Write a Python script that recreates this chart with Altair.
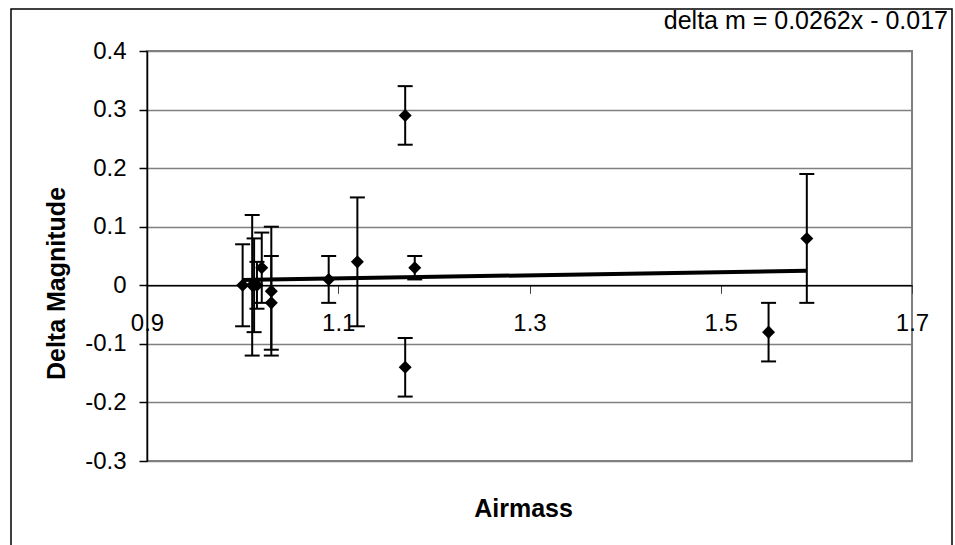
import altair as alt
import pandas as pd

# ---- data ----
airmass   = [1.00, 1.01, 1.012, 1.015, 1.02, 1.03, 1.03, 1.09, 1.12, 1.17, 1.17, 1.18, 1.55, 1.59]
delta_mag = [0.00, 0.00, 0.00, 0.00, 0.03, -0.01, -0.03, 0.01, 0.04, 0.29, -0.14, 0.03, -0.08, 0.08]
error     = [0.07, 0.12, 0.08, 0.04, 0.06, 0.11, 0.08, 0.04, 0.11, 0.05, 0.05, 0.02, 0.05, 0.11]

trend_slope = 0.0262
trend_intercept = -0.017
equation_label = ["delta m = 0.0262x - 0.017"]

x_ticks = [0.9, 1.1, 1.3, 1.5, 1.7]
y_ticks = [-0.3, -0.2, -0.1, 0, 0.1, 0.2, 0.3, 0.4]
x_title = "Airmass"
y_title = "Delta Magnitude"

# ---- tables ----
df = pd.DataFrame({"airmass": airmass, "dmag": delta_mag, "err": error})
df["lo"] = df["dmag"] - df["err"]
df["hi"] = df["dmag"] + df["err"]

trend = pd.DataFrame({"airmass": [min(airmass), max(airmass)]})
trend["dmag"] = trend_slope * trend["airmass"] + trend_intercept

eq = pd.DataFrame({"label": equation_label})

W, H = 765, 410
FONT = "Liberation Sans"
x_dom = [x_ticks[0], x_ticks[-1]]
y_dom = [y_ticks[0], y_ticks[-1]]
zero_offset = -H * (0 - y_dom[0]) / (y_dom[1] - y_dom[0])

xscale = alt.Scale(domain=x_dom, nice=False, zero=False)
yscale = alt.Scale(domain=y_dom, nice=False, zero=False)

xaxis = alt.Axis(
    values=x_ticks, format=".1f", offset=zero_offset, grid=False,
    domainColor="black", domainWidth=1.5,
    tickColor="#404040", tickSize=8, tickWidth=1,
    labelFont=FONT, labelFontSize=24, labelColor="black", labelPadding=18,
    labelFlush=False, labelOverlap=False,
    title=x_title, titleFont=FONT, titleFontSize=25, titleFontWeight="bold",
    titleColor="black", titleX=376, titleY=223, titleBaseline="middle",
    titleAlign="center",
)
yaxis = alt.Axis(
    values=y_ticks,
    labelExpr="datum.value == 0 ? '0' : (datum.value < 0 ? '-' + format(-datum.value, '.1f') : format(datum.value, '.1f'))",
    grid=True, gridColor="#808080", gridWidth=1.5,
    domainColor="black", domainWidth=1.5,
    tickColor="black", tickSize=8, tickWidth=1.5,
    labelFont=FONT, labelFontSize=24, labelColor="black", labelPadding=13,
    labelFlush=False, labelOverlap=False,
    title=y_title, titleFont=FONT, titleFontSize=25, titleFontWeight="bold",
    titleColor="black", titleAngle=270, titleX=-91, titleY=232,
    titleBaseline="middle", titleAlign="center",
)

X = alt.X("airmass:Q", scale=xscale, axis=xaxis)

bars = alt.Chart(df).mark_rule(color="black", strokeWidth=2).encode(
    x=X,
    y=alt.Y("lo:Q", scale=yscale, axis=yaxis),
    y2="hi:Q",
)
cap_lo = alt.Chart(df).mark_rule(color="black", strokeWidth=2, xOffset=-7.5, x2Offset=7.5).encode(
    x=X, x2="airmass:Q",
    y=alt.Y("lo:Q", scale=yscale, axis=yaxis),
)
cap_hi = alt.Chart(df).mark_rule(color="black", strokeWidth=2, xOffset=-7.5, x2Offset=7.5).encode(
    x=X, x2="airmass:Q",
    y=alt.Y("hi:Q", scale=yscale, axis=yaxis),
)
line = alt.Chart(trend).mark_line(color="black", strokeWidth=4).encode(
    x=X,
    y=alt.Y("dmag:Q", scale=yscale, axis=yaxis),
)
points = alt.Chart(df).mark_point(shape="diamond", filled=True, size=170, color="black", opacity=1).encode(
    x=X,
    y=alt.Y("dmag:Q", scale=yscale, axis=yaxis),
)
label = alt.Chart(eq).mark_text(
    align="right", baseline="alphabetic", font=FONT, fontSize=25, color="black"
).encode(text="label:N", x=alt.value(801), y=alt.value(-22))

frame = alt.Chart(eq).mark_rect(fillOpacity=0, stroke="black", strokeWidth=1.5).encode(
    x=alt.value(-136), x2=alt.value(805), y=alt.value(-42), y2=alt.value(560)
)

chart = alt.layer(bars, cap_lo, cap_hi, line, points, label, frame).properties(
    width=W, height=H,
    autosize=alt.AutoSizeParams(type="none"),
    padding={"left": 147, "top": 51, "right": 43, "bottom": 84},
    background="white",
).configure_view(stroke="#808080", strokeWidth=2)

chart.save("out.html", embed_options={"renderer": "svg", "actions": False})
